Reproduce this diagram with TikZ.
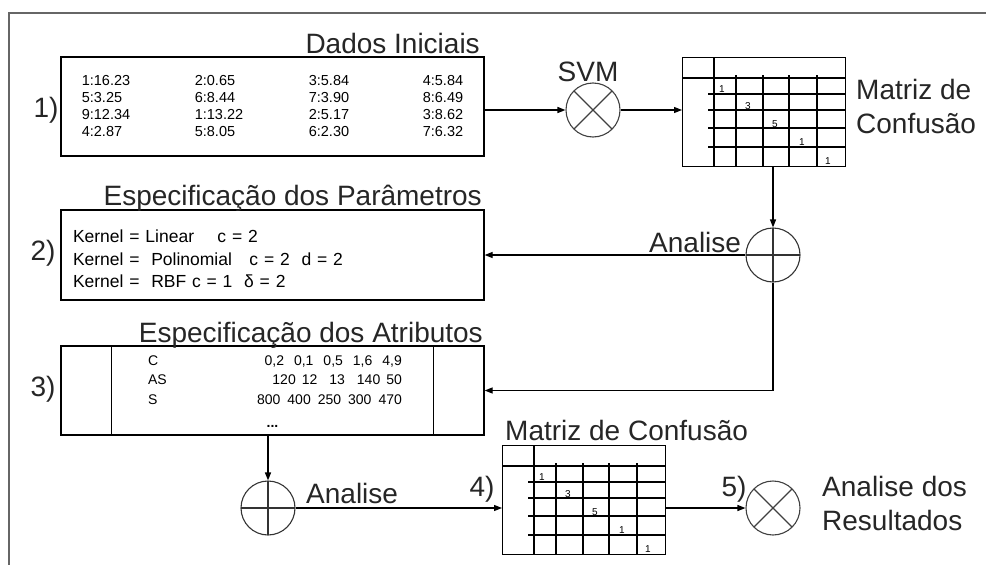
\documentclass[tikz,border=0pt]{standalone}
\usepackage{fontspec}
\setmainfont{Liberation Sans}
\usetikzlibrary{arrows.meta,calc}

\begin{document}
\begin{tikzpicture}[
  x=1pt, y=-1pt,
  databox/.style={draw, line width=1.3pt, minimum width=423pt, inner sep=0pt},
  lbl/.style={inner sep=0pt, align=left, font=\fontsize{28}{34}\selectfont, text=black!85},
  crossop/.style={circle, draw=black!75, line width=1.1pt, minimum size=54pt, inner sep=0pt,
    path picture={\draw[black!75, line width=1.1pt]
      (path picture bounding box.north west) -- (path picture bounding box.south east)
      (path picture bounding box.north east) -- (path picture bounding box.south west);}},
  plusop/.style={circle, draw=black!80, line width=1.1pt, minimum size=54pt, inner sep=0pt,
    path picture={\draw[line width=1.1pt]
      (path picture bounding box.north) -- (path picture bounding box.south)
      (path picture bounding box.west) -- (path picture bounding box.east);}},
  arr/.style={-{Triangle[length=8pt,width=6pt]}, line width=1.2pt},
  outerframe/.style={draw=black!60, line width=1.3pt},
  cellnum/.style={inner sep=0pt, font=\fontsize{10}{12}\selectfont},
  confmat/.pic={
    \node[draw, line width=1.3pt, minimum width=163pt, minimum height=109pt, inner sep=0pt, anchor=north west] (-box) at (0,0) {};
    \draw[line width=1.3pt] (32,0) -- (32,109);
    \draw[line width=1.3pt] (0,21) -- (163,21);
    \foreach \x in {54,81,107,135} \draw[line width=1.3pt] (\x,18) -- (\x,109);
    \foreach \y in {37,53,71,90} \draw[line width=1.3pt] (26,\y) -- (163,\y);
    \foreach \v/\x/\y [count=\i] in {1/40/35, 3/66/52, 5/93/70, 1/120/88, 1/146/107}
      \node[cellnum, anchor=base] (-n\i) at (\x,\y) {\v};
  },
]
\useasboundingbox (0,0) rectangle (986,565);

% --- moldura ---
\draw[outerframe] (986,13) -- (9,13) -- (9,565);

% --- 1) Dados Iniciais ---
\node[databox, minimum height=99pt, font=\fontsize{14.5}{16.7}\selectfont] (box1) at (272.5,106.5) {%
  \begin{tabular}{@{}p{113pt}@{}p{114pt}@{}p{114pt}@{}l@{}}
  \rule{0pt}{14pt}1:16.23 & 2:0.65 & 3:5.84 & 4:5.84\\
  5:3.25 & 6:8.44 & 7:3.90 & 8:6.49\\
  9:12.34 & 1:13.22 & 2:5.17 & 3:8.62\\
  4:2.87 & 5:8.05 & 6:2.30 & 7:6.32
  \end{tabular}};
\node[lbl, anchor=base east] (t1) at (480,53) {Dados Iniciais};
\node[lbl] (n1) at (46,110) {1)};

\node[crossop] (svm) at (593,110) {};
\node[lbl, anchor=base] (tsvm) at (588,81) {SVM};
\pic (m1) at (682,57) {confmat};
\node[lbl, anchor=base west] (tm1) at (856,133) {Matriz de\\Confusão};

\draw[arr] (svm.west -| box1.east) -- (svm.west);
\draw[arr] (svm.east) -- (svm.east -| m1-box.west);

% --- 2) Parametros ---
\node[plusop] (ana1) at (773,255) {};
\node[lbl, anchor=base west] (tana1) at (649,252) {Analise};
\node[databox, minimum height=90pt, text width=399pt, inner xsep=12pt, align=left,
  font=\fontsize{17.5}{22.5}\selectfont] (box2) at (272.5,255) {%
  \rule{0pt}{21pt}Kernel = Linear\ \ \ \ c = 2\\
  Kernel = \ Polinomial\ \ \ c = 2\ \ d = 2\\
  Kernel = \ RBF c = 1\ \ δ = 2};
\node[lbl, anchor=base east] (t2) at (482,205) {Especificação dos Parâmetros};
\node[lbl] (n2) at (43,253) {2)};

\draw[arr] (ana1.north |- m1-box.south) -- (ana1.north);
\draw[arr] (ana1.west) -- (ana1.west -| box2.east);

% --- 3) Atributos ---
\node[databox, minimum height=89pt, font=\fontsize{14}{19.5}\selectfont] (box3) at (272.5,390.5) {%
  \begin{tabular}{@{\hspace{5pt}}p{109pt}@{}r@{}}
  \rule{0pt}{17.5pt}C & 0,2\hspace{10pt}0,1\hspace{10pt}0,5\hspace{10pt}1,6\hspace{10pt}4,9\\
  AS & 120\hspace{6pt}12\hspace{12pt}13\hspace{12pt}140\hspace{6pt}50\\
  S & 800\hspace{7pt}400\hspace{7pt}250\hspace{7pt}300\hspace{7pt}470\\[3.5pt]
  \multicolumn{2}{c}{\textbf{...}}
  \end{tabular}};
\draw[line width=1.3pt] ($(box3.north west)+(51,0)$) -- ($(box3.south west)+(51,0)$);
\draw[line width=1.3pt] ($(box3.north east)+(-51,0)$) -- ($(box3.south east)+(-51,0)$);
\node[lbl, anchor=base east] (t3) at (483,342) {Especificação dos Atributos};
\node[lbl] (n3) at (43,389) {3)};

\draw[arr] (ana1.south) |- (box3.east);

% --- 4) e 5) ---
\node[plusop] (ana2) at (268,508) {};
\node[lbl, anchor=base west] (tana2) at (306,503) {Analise};
\pic (m2) at (502,445) {confmat};
\node[lbl, anchor=base west] (tm2) at (505,440) {Matriz de Confusão};
\node[lbl] (n4) at (482,489) {4)};
\node[crossop] (res) at (773,508) {};
\node[lbl] (n5) at (734,489) {5)};
\node[lbl, anchor=base west] (tres) at (822,530) {Analise dos\\Resultados};

\draw[arr] (ana2.north |- box3.south) -- (ana2.north);
\draw[arr] (ana2.east) -- (ana2.east -| m2-box.west);
\draw[arr] (res.west -| m2-box.east) -- (res.west);

\end{tikzpicture}
\end{document}
